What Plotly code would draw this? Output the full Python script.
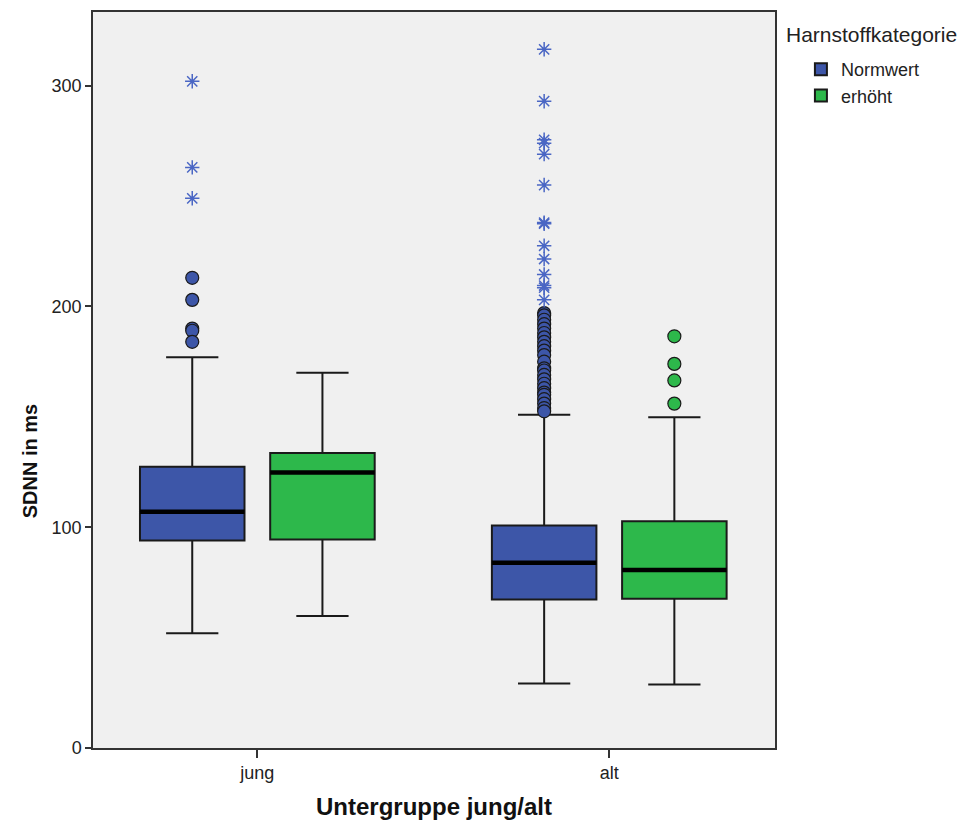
import plotly.graph_objects as go

# Groups on the x axis and the two urea categories
groups = ["jung", "alt"]
group_pos = [0, 1]
categories = ["Normwert", "erhöht"]
cat_offset = [-0.185, 0.185]
box_width = 0.297

# Box statistics (SDNN in ms) per category, ordered like `groups`
q1 = {"Normwert": [94.0, 67.3], "erhöht": [94.4, 67.6]}
median = {"Normwert": [107.0, 83.9], "erhöht": [124.8, 80.6]}
q3 = {"Normwert": [127.4, 100.8], "erhöht": [133.6, 102.7]}
lower_whisker = {"Normwert": [52.0, 29.2], "erhöht": [59.8, 28.8]}
upper_whisker = {"Normwert": [177.0, 151.0], "erhöht": [170.0, 149.8]}

# Outliers (circles) and extreme values (stars)
outliers = {
    ("jung", "Normwert"): [213, 203, 190, 189, 184],
    ("jung", "erhöht"): [],
    ("alt", "Normwert"): [197, 196, 194, 192, 190, 188, 186, 184, 182, 180, 178, 175,
                          172, 171, 169, 167, 165, 163, 161, 160, 158, 156, 154, 152.5],
    ("alt", "erhöht"): [186.5, 174, 166.5, 156],
}
extremes = {
    ("jung", "Normwert"): [302, 263, 249],
    ("jung", "erhöht"): [],
    ("alt", "Normwert"): [316.5, 293, 275.5, 274, 269, 255, 238, 237.5, 227.5, 221.5,
                          214.5, 209.5, 208.5, 203],
    ("alt", "erhöht"): [],
}

fill_colors = {"Normwert": "#3D56A8", "erhöht": "#2DB84B"}
star_colors = {"Normwert": "#4A66C4", "erhöht": "#2DB84B"}

fig = go.Figure()

for ci, cat in enumerate(categories):
    xs = [p + cat_offset[ci] for p in group_pos]
    fig.add_trace(go.Box(
        name=cat,
        legendgroup=cat,
        x=xs,
        q1=q1[cat], median=median[cat], q3=q3[cat],
        lowerfence=lower_whisker[cat], upperfence=upper_whisker[cat],
        width=box_width,
        whiskerwidth=0.5,
        fillcolor=fill_colors[cat],
        line=dict(color="#1a1a1a", width=2),
        boxpoints=False,
        hoverinfo="skip",
    ))
    # thick median bars
    for gi, x in enumerate(xs):
        fig.add_trace(go.Scatter(
            x=[x - box_width / 2, x + box_width / 2],
            y=[median[cat][gi], median[cat][gi]],
            mode="lines",
            line=dict(color="black", width=4.5),
            showlegend=False, legendgroup=cat, hoverinfo="skip",
        ))
    for gi, g in enumerate(groups):
        vals = outliers[(g, cat)]
        if vals:
            fig.add_trace(go.Scatter(
                x=[xs[gi]] * len(vals), y=vals, mode="markers",
                marker=dict(symbol="circle", size=13, color=fill_colors[cat],
                            line=dict(color="#1a1a1a", width=1.2)),
                showlegend=False, legendgroup=cat,
            ))
        vals = extremes[(g, cat)]
        if vals:
            fig.add_trace(go.Scatter(
                x=[xs[gi]] * len(vals), y=vals, mode="markers",
                marker=dict(symbol="asterisk-open", size=12, color=star_colors[cat],
                            line=dict(color=star_colors[cat], width=1.5)),
                showlegend=False, legendgroup=cat,
            ))

font_family = "Liberation Sans, Arial, sans-serif"

fig.update_layout(
    width=964, height=829,
    margin=dict(l=93, r=189, t=10, b=81),
    paper_bgcolor="white",
    plot_bgcolor="#F0F0F0",
    font=dict(family=font_family, size=18, color="#222"),
    showlegend=True,
    legend=dict(
        x=1.038, y=0.947, xanchor="left", yanchor="top",
        font=dict(size=18, color="#222"),
        bgcolor="rgba(0,0,0,0)",
        tracegroupgap=0,
    ),
    annotations=[
        dict(
            text="Harnstoffkategorie", xref="paper", yref="paper",
            x=1.0135, y=0.969, xanchor="left", yanchor="middle",
            showarrow=False, font=dict(size=21, color="#222"),
        ),
        dict(
            text="<b>SDNN in ms</b>", xref="paper", yref="paper",
            x=-0.092, y=0.39, xanchor="center", yanchor="middle", textangle=-90,
            showarrow=False, font=dict(size=20, color="#111"),
        ),
    ],
)

fig.update_xaxes(
    range=[-0.467, 1.471],
    tickmode="array", tickvals=group_pos, ticktext=groups,
    ticks="outside", ticklen=8, tickcolor="#333", tickwidth=1.5,
    tickfont=dict(size=18, color="#222"),
    showgrid=False, zeroline=False,
    showline=True, linecolor="#333", linewidth=1.5, mirror=True,
    title=dict(text="<b>Untergruppe jung/alt</b>", font=dict(size=24, color="#111"), standoff=16),
)
fig.update_yaxes(
    range=[0, 333.4],
    tickmode="array", tickvals=[0, 100, 200, 300],
    ticks="outside", ticklen=6, tickcolor="#333", tickwidth=1.5,
    tickfont=dict(size=18, color="#222"),
    showgrid=False, zeroline=False,
    showline=True, linecolor="#333", linewidth=1.5, mirror=True,
)

fig.write_html("out.html")
